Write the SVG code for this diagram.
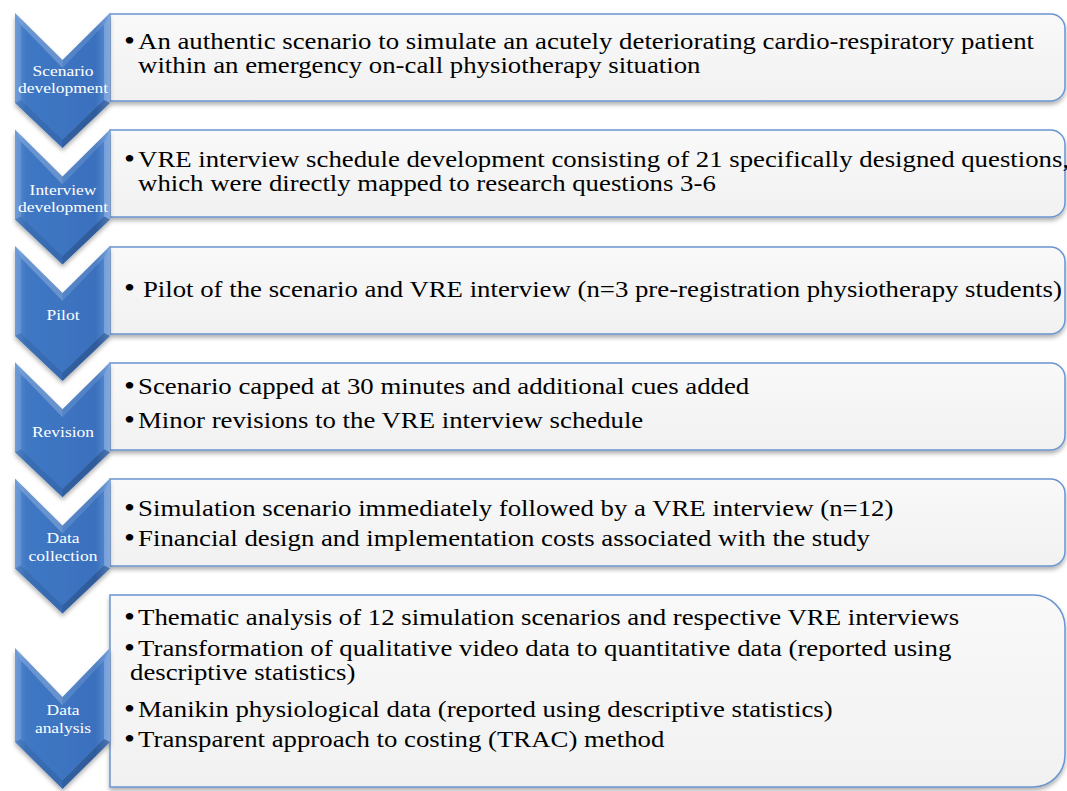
<svg xmlns="http://www.w3.org/2000/svg" xmlns:xlink="http://www.w3.org/1999/xlink" width="1067" height="791" viewBox="0 0 1067 791">
<defs>
<linearGradient id="chevGrad" x1="0" y1="0" x2="1" y2="0">
<stop offset="0" stop-color="#5B8FD5"/>
<stop offset="0.12" stop-color="#3F78C4"/>
<stop offset="0.85" stop-color="#3A70BD"/>
<stop offset="1" stop-color="#5F92D8"/>
</linearGradient>
<linearGradient id="boxGrad" x1="0" y1="0" x2="0" y2="1">
<stop offset="0" stop-color="#F9F9F9"/>
<stop offset="1" stop-color="#F1F1F1"/>
</linearGradient>
<filter id="shadow" x="-5%" y="-10%" width="110%" height="130%">
<feDropShadow dx="0" dy="3" stdDeviation="2" flood-color="#000" flood-opacity="0.3"/>
</filter>
<g id="chev">
<polygon points="0,0 47.5,47 95,0 95,90 47.5,135 0,90" fill="url(#chevGrad)"/>
<polygon points="0,0 47.5,47 47.5,55 6,12" fill="#fff" fill-opacity="0.22"/>
<polygon points="47.5,47 95,0 89,12 47.5,55" fill="#fff" fill-opacity="0.12"/>
<polygon points="95,0 95,90 89,87 89,12" fill="#fff" fill-opacity="0.22"/>
<polygon points="95,90 47.5,135 47.5,127 89,87" fill="#000" fill-opacity="0.18"/>
<polygon points="47.5,135 0,90 6,87 47.5,127" fill="#000" fill-opacity="0.08"/>
<polygon points="0,90 0,0 6,12 6,87" fill="#fff" fill-opacity="0.12"/>
</g>
<style>
.box{fill:url(#boxGrad);stroke:#6B95CF;stroke-width:1.5;filter:url(#shadow)}
.lbl{font-family:"Liberation Serif","Times New Roman",serif;font-size:15px;fill:#fff;text-anchor:middle}
.txt{font-family:"Liberation Serif","Times New Roman",serif;font-size:23px;fill:#000}
.bul{font-family:"Liberation Serif","Times New Roman",serif;font-size:27px;fill:#000}
</style>
</defs>
<rect width="1067" height="791" fill="#fff"/>

<g id="connectors"></g>

<g id="node1">
<path class="box" d="M110,14 H1050.5 A14.5,14.5 0 0 1 1065,28.5 V86.5 A14.5,14.5 0 0 1 1050.5,101 H110 Z"/>
<use xlink:href="#chev" transform="translate(15,13)" filter="url(#shadow)"/>
<g transform="scale(1.165,1)">
<text class="lbl" x="54.1" y="76">Scenario</text>
<text class="lbl" x="54.1" y="93">development</text>
<text class="bul" x="106.5" y="50">•</text>
<text class="txt" x="118.5" y="49">An authentic scenario to simulate an acutely deteriorating cardio-respiratory patient</text>
<text class="txt" x="118.5" y="73">within  an emergency on-call physiotherapy situation</text>
</g>
</g>

<g id="node2">
<path class="box" d="M110,130 H1050.5 A14.5,14.5 0 0 1 1065,144.5 V202.5 A14.5,14.5 0 0 1 1050.5,217 H110 Z"/>
<use xlink:href="#chev" transform="translate(15,129.5)" filter="url(#shadow)"/>
<g transform="scale(1.165,1)">
<text class="lbl" x="54.1" y="195">Interview</text>
<text class="lbl" x="54.1" y="212">development</text>
<text class="bul" x="106.5" y="168">•</text>
<text class="txt" x="118.5" y="167">VRE interview schedule development consisting of 21 specifically designed questions,</text>
<text class="txt" x="118.5" y="191">which were directly mapped to research questions 3-6</text>
</g>
</g>

<g id="node3">
<path class="box" d="M110,247 H1050.5 A14.5,14.5 0 0 1 1065,261.5 V319.5 A14.5,14.5 0 0 1 1050.5,334 H110 Z"/>
<use xlink:href="#chev" transform="translate(15,246)" filter="url(#shadow)"/>
<g transform="scale(1.165,1)">
<text class="lbl" x="54.1" y="320">Pilot</text>
<text class="bul" x="106.5" y="297">•</text>
<text class="txt" x="122.7" y="297">Pilot of the scenario and VRE interview (n=3 pre-registration physiotherapy students)</text>
</g>
</g>

<g id="node4">
<path class="box" d="M110,363 H1050.5 A14.5,14.5 0 0 1 1065,377.5 V435.5 A14.5,14.5 0 0 1 1050.5,450 H110 Z"/>
<use xlink:href="#chev" transform="translate(15,362.2)" filter="url(#shadow)"/>
<g transform="scale(1.165,1)">
<text class="lbl" x="54.1" y="437">Revision</text>
<text class="bul" x="106.5" y="395">•</text>
<text class="txt" x="118.5" y="394">Scenario capped at 30 minutes and additional cues added</text>
<text class="bul" x="106.5" y="429">•</text>
<text class="txt" x="118.5" y="428">Minor revisions to the VRE interview schedule</text>
</g>
</g>

<g id="node5">
<path class="box" d="M110,479 H1050.5 A14.5,14.5 0 0 1 1065,493.5 V551.5 A14.5,14.5 0 0 1 1050.5,566 H110 Z"/>
<use xlink:href="#chev" transform="translate(15,478.6)" filter="url(#shadow)"/>
<g transform="scale(1.165,1)">
<text class="lbl" x="54.1" y="543">Data</text>
<text class="lbl" x="54.1" y="561">collection</text>
<text class="bul" x="106.5" y="517">•</text>
<text class="txt" x="118.5" y="516">Simulation scenario immediately followed by a VRE interview (n=12)</text>
<text class="bul" x="106.5" y="547">•</text>
<text class="txt" x="118.5" y="546">Financial design and implementation costs associated with the study</text>
</g>
</g>

<g id="node6">
<path class="box" d="M110,595 H1033 A32,32 0 0 1 1065,627 V755 A32,32 0 0 1 1033,787 H110 Z"/>
<use xlink:href="#chev" transform="translate(15,648) scale(1,1.045)" filter="url(#shadow)"/>
<g transform="scale(1.165,1)">
<text class="lbl" x="54.1" y="715">Data</text>
<text class="lbl" x="54.1" y="733">analysis</text>
<text class="bul" x="106.5" y="626">•</text>
<text class="txt" x="118.5" y="625">Thematic analysis of 12 simulation scenarios and respective VRE interviews</text>
<text class="bul" x="106.5" y="657">•</text>
<text class="txt" x="118.5" y="656">Transformation of qualitative video data to quantitative data (reported using</text>
<text class="txt" x="111.6" y="680">descriptive statistics)</text>
<text class="bul" x="106.5" y="718">•</text>
<text class="txt" x="118.5" y="717">Manikin physiological data (reported using descriptive statistics)</text>
<text class="bul" x="106.5" y="748">•</text>
<text class="txt" x="118.5" y="747">Transparent approach to costing (TRAC) method</text>
</g>
</g>
</svg>
